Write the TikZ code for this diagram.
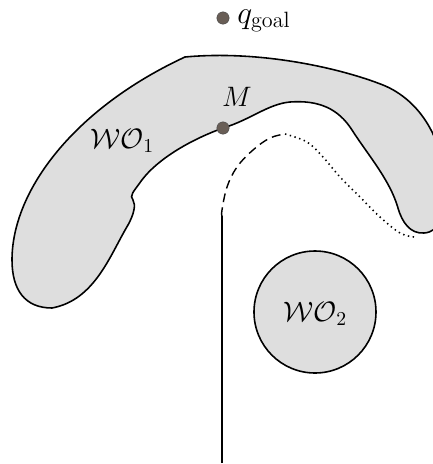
\documentclass[tikz,border=0pt]{standalone}
\usepackage{amsmath}
\usepackage{fix-cm}
\definecolor{obstaclegray}{RGB}{222,222,222}
\definecolor{pointgray}{RGB}{105,94,86}
\begin{document}
\begin{tikzpicture}[x=0.02cm,y=-0.02cm,
    obstacle/.style={fill=obstaclegray,draw=black,line width=0.9pt},
    robotpath/.style={line width=0.8pt},
    dot/.style={circle,fill=pointgray,draw=black!70,line width=0.3pt,inner sep=0pt,minimum size=7pt},
    lbl/.style={font=\fontsize{16}{19}\selectfont}]
\useasboundingbox (0,0) rectangle (433,464);
% Obstacles
\begin{scope}
    \clip (0,0) rectangle (433,464);
    \draw[obstacle] (52,308) .. controls (25,308) and (12,290) .. (12,260)
        .. controls (12,190) and (75,108) .. (185,57)
        .. controls (260,50) and (340,68) .. (383,85)
        .. controls (420,100) and (445,140) .. (445,190)
        .. controls (445,215) and (440,232) .. (424,233)
        .. controls (410,234) and (402,222) .. (398,208)
        .. controls (390,180) and (368,155) .. (352,130)
        .. controls (338,108) and (318,100) .. (290,102)
        .. controls (268,104) and (250,120) .. (223,128)
        .. controls (190,140) and (155,160) .. (139,184)
        .. controls (134,191) and (129,196) .. (133,200)
        .. controls (136,205) and (134,214) .. (128,225)
        .. controls (110,255) and (95,300) .. (52,308) -- cycle;
\end{scope}
    \draw[obstacle] (315,312) circle[radius=61];
% Path
    \coordinate (start) at (222,463);
    \coordinate (hit) at (222,216);
    \coordinate (turn) at (285,134);
    \coordinate (leave) at (414,237);
    \draw[robotpath] (start) -- (222,222) -- (hit);
    \draw[robotpath,dash pattern=on 5pt off 3pt] plot[smooth,tension=0.6] coordinates {(hit) (222,210) (227,187) (237,167) (253,150) (270,138) (turn)};
    \draw[robotpath,dotted,line width=0.9pt] plot[smooth,tension=0.6] coordinates {(turn) (307,142) (323,157) (340,177) (360,197) (380,217) (400,233) (leave)};
% Points
    \node[dot] (goal) at (223,18) {};
    \node[dot] (m) at (223,128) {};
% Labels
    \node[font=\fontsize{18}{21}\selectfont,anchor=west,inner sep=0pt] (goallbl) at (237,21) {\(q_{\text{goal}}\)};
    \node[lbl] (mlbl) at (237,97) {\(M\)};
    \node[lbl] (wo1) at (122,141) {\(\mathcal{WO}_1\)};
    \node[lbl] (wo2) at (315,314) {\(\mathcal{WO}_2\)};
\end{tikzpicture}
\end{document}
